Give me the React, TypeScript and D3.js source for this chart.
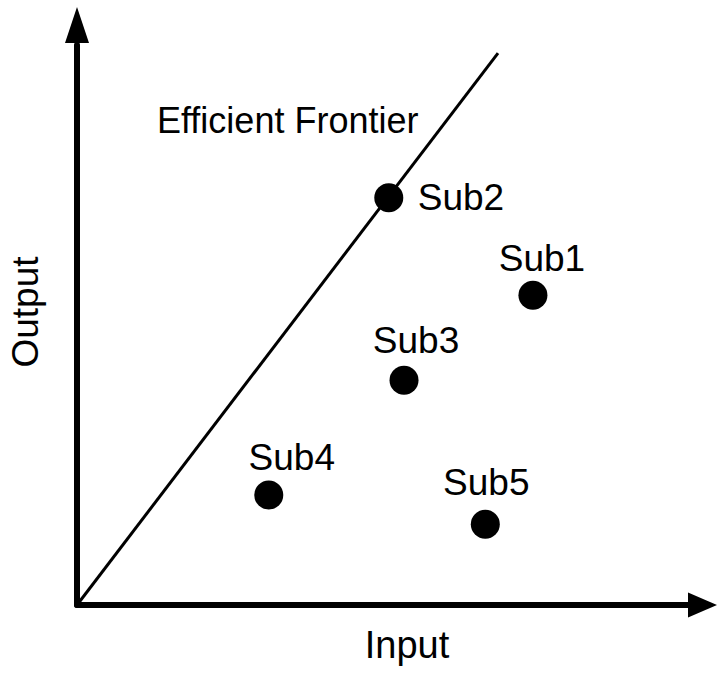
import React, { useEffect, useRef } from "react";
import * as d3 from "d3";

// firms (decision making units) on input/output plane
const names = ["Sub1", "Sub2", "Sub3", "Sub4", "Sub5"];
const inputs = [71.8, 49.1, 51.5, 30.2, 64.3];
const outputs = [51.8, 68.1, 37.6, 18.4, 13.5];

// frontier goes from origin through Sub2
const frontierX = [0, 66.3];
const frontierY = [0, 92.3];

const width = 717;
const height = 675;

const drawChart = (svgEl: SVGSVGElement) => {
  const svg = d3.select(svgEl);
  svg.selectAll("*").remove();

  const x = d3.scaleLinear().domain([0, 100]).range([77, 712]);
  const y = d3.scaleLinear().domain([0, 100]).range([605, 7]);

  const font = "'Liberation Sans', Arial, sans-serif";

  // axes with arrow heads
  svg
    .append("line")
    .attr("x1", x(0))
    .attr("y1", y(0))
    .attr("x2", x(0))
    .attr("y2", y(0) - 560)
    .attr("stroke", "#000")
    .attr("stroke-width", 6)
    .attr("stroke-linecap", "round");

  svg
    .append("line")
    .attr("x1", x(0))
    .attr("y1", y(0))
    .attr("x2", 690)
    .attr("y2", y(0))
    .attr("stroke", "#000")
    .attr("stroke-width", 6)
    .attr("stroke-linecap", "round");

  const tipY = y(100);
  svg
    .append("path")
    .attr(
      "d",
      `M${x(0)},${tipY} L${x(0) - 12},${tipY + 36} L${x(0) + 12},${tipY + 36} Z`
    )
    .attr("fill", "#000");

  const tipX = x(100) + 5;
  svg
    .append("path")
    .attr(
      "d",
      `M${tipX},${y(0)} L${tipX - 29},${y(0) - 12.5} L${tipX - 29},${y(0) + 12.5} Z`
    )
    .attr("fill", "#000");

  // efficient frontier
  const line = d3
    .line<number>()
    .x((d) => x(frontierX[d]))
    .y((d) => y(frontierY[d]));

  svg
    .append("path")
    .attr("d", line([0, 1]))
    .attr("fill", "none")
    .attr("stroke", "#000")
    .attr("stroke-width", 3);

  svg
    .append("text")
    .attr("x", 157)
    .attr("y", 133)
    .style("font-family", font)
    .style("font-size", "36px")
    .text("Efficient Frontier");

  // points
  svg
    .selectAll("circle.dmu")
    .data(names)
    .enter()
    .append("circle")
    .attr("class", "dmu")
    .attr("cx", (d, i) => x(inputs[i]))
    .attr("cy", (d, i) => y(outputs[i]))
    .attr("r", 14.5)
    .attr("fill", "#000");

  // label offsets from each dot
  const offsets: Record<string, [number, number, string]> = {
    Sub1: [9, -24, "middle"],
    Sub2: [29, 12, "start"],
    Sub3: [12, -27, "middle"],
    Sub4: [23, -25, "middle"],
    Sub5: [1, -29, "middle"],
  };

  svg
    .selectAll("text.lbl")
    .data(names)
    .enter()
    .append("text")
    .attr("class", "lbl")
    .attr("x", (d, i) => x(inputs[i]) + offsets[d][0])
    .attr("y", (d, i) => y(outputs[i]) + offsets[d][1])
    .attr("text-anchor", (d) => offsets[d][2])
    .style("font-family", font)
    .style("font-size", "37px")
    .text((d) => d);

  // axis titles
  svg
    .append("text")
    .attr("x", 407)
    .attr("y", 658)
    .attr("text-anchor", "middle")
    .style("font-family", font)
    .style("font-size", "38px")
    .text("Input");

  svg
    .append("text")
    .attr("transform", "translate(38, 312) rotate(-90)")
    .attr("text-anchor", "middle")
    .style("font-family", font)
    .style("font-size", "37px")
    .text("Output");
};

const App = () => {
  const svgRef = useRef<SVGSVGElement>(null);

  useEffect(() => {
    if (svgRef.current) drawChart(svgRef.current);
  }, []);

  return (
    <svg
      ref={svgRef}
      width={width}
      height={height}
      style={{ position: "absolute", left: 0, top: 0, background: "#fff" }}
    ></svg>
  );
};

export default App;
